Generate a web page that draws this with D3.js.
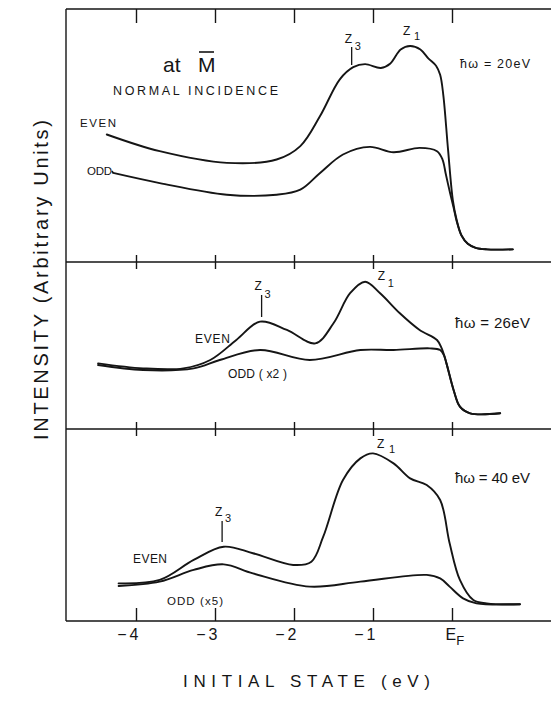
<!DOCTYPE html>
<html><head><meta charset="utf-8">
<script src="https://cdn.jsdelivr.net/npm/d3@7"></script>
<style>
html,body{margin:0;padding:0;background:#fff;}
svg{display:block;font-family:"Liberation Sans",Arial,sans-serif;}
</style></head>
<body>
<svg id="chart" width="551" height="702"></svg>
<script>
// ---------------- DATA ----------------
const tickValues = [-4, -3, -2, -1, 0];
const tickLabels = ["\u22124", "\u22123", "\u22122", "\u22121", "E_F"];

const photonEnergies = ["20eV", "26eV", "40 eV"];
const oddLabels = ["ODD", "ODD ( x2 )", "ODD (x5)"];

// hw = 20 eV
const even20E = [-4.37,-3.70,-2.85,-2.22,-1.92,-1.67,-1.42,-1.25,-1.10,-0.90,-0.78,-0.65,-0.53,-0.40,-0.30,-0.20,-0.15,-0.11,-0.05,0.01,0.06,0.12,0.20,0.30,0.44,0.77];
const even20I = [50.4,43.8,39.2,40.5,45.8,57.7,72.2,77.0,78.2,76.7,78.5,84.0,85.4,84.0,80.5,77.5,74.0,66.0,44.4,24.6,16.5,10.5,7.2,5.6,5.0,5.0];
const odd20E  = [-4.29,-3.70,-2.85,-2.22,-1.92,-1.67,-1.38,-1.04,-0.74,-0.41,-0.19,-0.12,-0.08,-0.03,0.02,0.06,0.12,0.20,0.30,0.44,0.77];
const odd20I  = [35.2,31.2,26.6,26.6,28.6,35.2,42.5,45.5,43.4,45.1,43.8,40.5,35.0,28.0,21.5,16.0,10.5,7.2,5.6,5.0,5.0];

// hw = 26 eV
const even26E = [-4.48,-3.91,-3.40,-3.06,-2.73,-2.43,-2.09,-1.73,-1.50,-1.29,-1.10,-0.91,-0.66,-0.41,-0.19,-0.13,-0.07,0.02,0.10,0.23,0.61];
const even26I = [39.3,36.3,36.3,41.3,53.3,64.3,59.3,51.3,63.3,81.3,88.2,81.3,69.3,59.3,53.3,48.3,39.3,23.4,13.4,9.4,9.4];
const odd26E  = [-4.48,-3.91,-3.27,-2.94,-2.43,-1.80,-1.16,-0.74,-0.28,-0.15,-0.10,-0.07,0.02,0.10,0.23,0.61];
const odd26I  = [38.3,35.3,36.3,41.3,47.3,41.3,47.3,47.3,48.3,47.3,44.0,39.3,23.4,13.4,9.4,9.4];

// hw = 40 eV
const even40E = [-4.22,-3.70,-3.27,-2.89,-2.52,-2.01,-1.78,-1.63,-1.38,-1.16,-1.00,-0.74,-0.53,-0.32,-0.15,-0.03,0.10,0.27,0.44,0.86];
const even40I = [19.6,21.4,31.8,38.7,35.3,29.2,30.9,43.9,73.4,84.7,87.3,82.1,74.3,70.8,63.0,40.5,21.4,10.9,9.2,8.7];
const odd40E  = [-4.22,-3.70,-3.27,-2.89,-2.52,-1.80,-1.16,-0.32,-0.15,-0.03,0.14,0.31,0.86];
const odd40I  = [18.2,20.5,26.6,29.5,24.8,17.9,20.5,24.0,22.2,17.9,11.8,9.2,8.7];

// peak markers (energy, eV)
const z3Energy = [-1.27, -2.41, -2.91];
const z1Energy = [-0.62, -0.94, -0.95];

// ---------------- LAYOUT ----------------
const svg = d3.select("#chart");
const frameLeft = 66, frameRight = 551;
const panelTop = [9, 262, 429];
const panelBottom = [262, 429, 621];

const x = d3.scaleLinear().domain([-4, 0]).range([136, 452]);
const ys = panelTop.map((t, i) => d3.scaleLinear().domain([0, 100]).range([panelBottom[i], t]));

const ink = "#151515";

// frame
const frame = svg.append("g").attr("stroke", ink).attr("stroke-width", 1.4).attr("fill", "none");
frame.append("line").attr("x1", frameLeft).attr("x2", frameLeft).attr("y1", panelTop[0]).attr("y2", panelBottom[2]);
[panelTop[0], panelTop[1], panelTop[2], panelBottom[2]].forEach(yy => {
  frame.append("line").attr("x1", frameLeft).attr("x2", frameRight).attr("y1", yy).attr("y2", yy);
});

// tick marks via d3 axes
function styleAxis(g) {
  g.select(".domain").remove();
  g.selectAll(".tick line").attr("stroke", ink).attr("stroke-width", 1.4);
}
svg.append("g").attr("transform", `translate(0,${panelTop[0]})`)
  .call(d3.axisTop(x).tickValues(tickValues).tickFormat("").tickSizeInner(-14).tickSizeOuter(0)).call(styleAxis);
[panelTop[1], panelTop[2]].forEach(yy => {
  svg.append("g").attr("transform", `translate(0,${yy})`)
    .call(d3.axisTop(x).tickValues(tickValues).tickFormat("").tickSizeInner(7).tickSizeOuter(0)).call(styleAxis);
  svg.append("g").attr("transform", `translate(0,${yy})`)
    .call(d3.axisBottom(x).tickValues(tickValues).tickFormat("").tickSizeInner(7).tickSizeOuter(0)).call(styleAxis);
});
const bottomAxis = svg.append("g").attr("transform", `translate(0,${panelBottom[2]})`)
  .call(d3.axisBottom(x).tickValues(tickValues).tickFormat((d, i) => tickLabels[i]).tickSizeInner(-13).tickSizeOuter(0))
  .call(styleAxis);
bottomAxis.selectAll(".tick text")
  .attr("fill", ink).attr("font-size", 16).attr("font-family", "Liberation Sans, Arial, sans-serif")
  .attr("y", 19).attr("dy", 0)
  .each(function(d, i) {
    const t = d3.select(this);
    if (tickLabels[i] === "E_F") {
      t.text("").attr("text-anchor", "start").attr("x", -7);
      t.append("tspan").text("E");
      t.append("tspan").text("F").attr("font-size", 13).attr("dy", 5);
    } else {
      t.attr("text-anchor", "end").attr("x", 5).attr("letter-spacing", 3);
    }
  });

// curves
const line = (ysc) => d3.line().x(d => x(d[0])).y(d => ysc(d[1])).curve(d3.curveCatmullRom.alpha(0.5));
const series = [
  [even20E, even20I, 0], [odd20E, odd20I, 0],
  [even26E, even26I, 1], [odd26E, odd26I, 1],
  [even40E, even40I, 2], [odd40E, odd40I, 2]
];
series.forEach(([E, I, p]) => {
  svg.append("path").datum(E.map((e, k) => [e, I[k]]))
    .attr("d", line(ys[p])).attr("fill", "none").attr("stroke", ink)
    .attr("stroke-width", 1.9).attr("stroke-linejoin", "round").attr("stroke-linecap", "round");
});

// text helper
function txt(xx, yy, s, size, len, extra) {
  const t = svg.append("text").attr("x", xx).attr("y", yy).attr("font-size", size).attr("fill", ink).text(s);
  if (len) t.attr("textLength", len).attr("lengthAdjust", "spacing");
  if (extra) extra(t);
  return t;
}

// panel 1 header
txt(163, 72, "at", 21);
txt(198, 72, "M", 21);
svg.append("line").attr("x1", 199).attr("x2", 214).attr("y1", 52).attr("y2", 52).attr("stroke", ink).attr("stroke-width", 1.6);
txt(113, 95, "NORMAL INCIDENCE", 12.5, 165);

// photon energy labels
const hwPos = [[460, 68, 70, 12.5], [455, 328, 75, 15], [455, 483, 75, 15]];
photonEnergies.forEach((s, i) => {
  const [xx, yy, len, size] = hwPos[i];
  txt(xx, yy, "\u0127\u03C9 = " + s, size, len);
});

// EVEN/ODD labels
txt(80, 127, "EVEN", 11.5, 36);
txt(87, 175, oddLabels[0], 11.5, 25);
svg.append("line").attr("x1", 112).attr("x2", x(odd20E[0])).attr("y1", 171).attr("y2", ys[0](odd20I[0]))
  .attr("stroke", ink).attr("stroke-width", 1.6);
txt(195, 343, "EVEN", 12, 35);
txt(228, 378, oddLabels[1], 12, 59);
txt(133, 563, "EVEN", 12, 34);
txt(167, 605, oddLabels[2], 11.5, 56);

// peak markers
const z3Geom = [{zy: 43, sy: 50, l1: 47, l2: 65}, {zy: 290, sy: 298, l1: 295, l2: 317}, {zy: 516, sy: 522, l1: 521, l2: 542}];
z3Energy.forEach((e, i) => {
  const xx = x(e), g = z3Geom[i];
  txt(xx - 7, g.zy, "Z", 12);
  txt(xx + 3, g.sy, "3", 11);
  svg.append("line").attr("x1", xx).attr("x2", xx).attr("y1", g.l1).attr("y2", g.l2).attr("stroke", ink).attr("stroke-width", 1.3);
});
const z1Geom = [{zy: 35, sy: 40, dx: 11}, {zy: 280, sy: 287, dx: 10}, {zy: 448, sy: 453, dx: 12}];
z1Energy.forEach((e, i) => {
  const xx = x(e), g = z1Geom[i];
  txt(xx, g.zy, "Z", 12);
  txt(xx + g.dx, g.sy, "1", 11);
});

// axis titles
txt(183, 687, "INITIAL STATE  (eV)", 17, 247);
svg.append("text").attr("transform", "translate(48,280) rotate(-90)")
  .attr("text-anchor", "middle").attr("font-size", 20).attr("fill", ink)
  .attr("textLength", 320).attr("lengthAdjust", "spacing")
  .text("INTENSITY  (Arbitrary  Units)");
</script>
</body></html>
